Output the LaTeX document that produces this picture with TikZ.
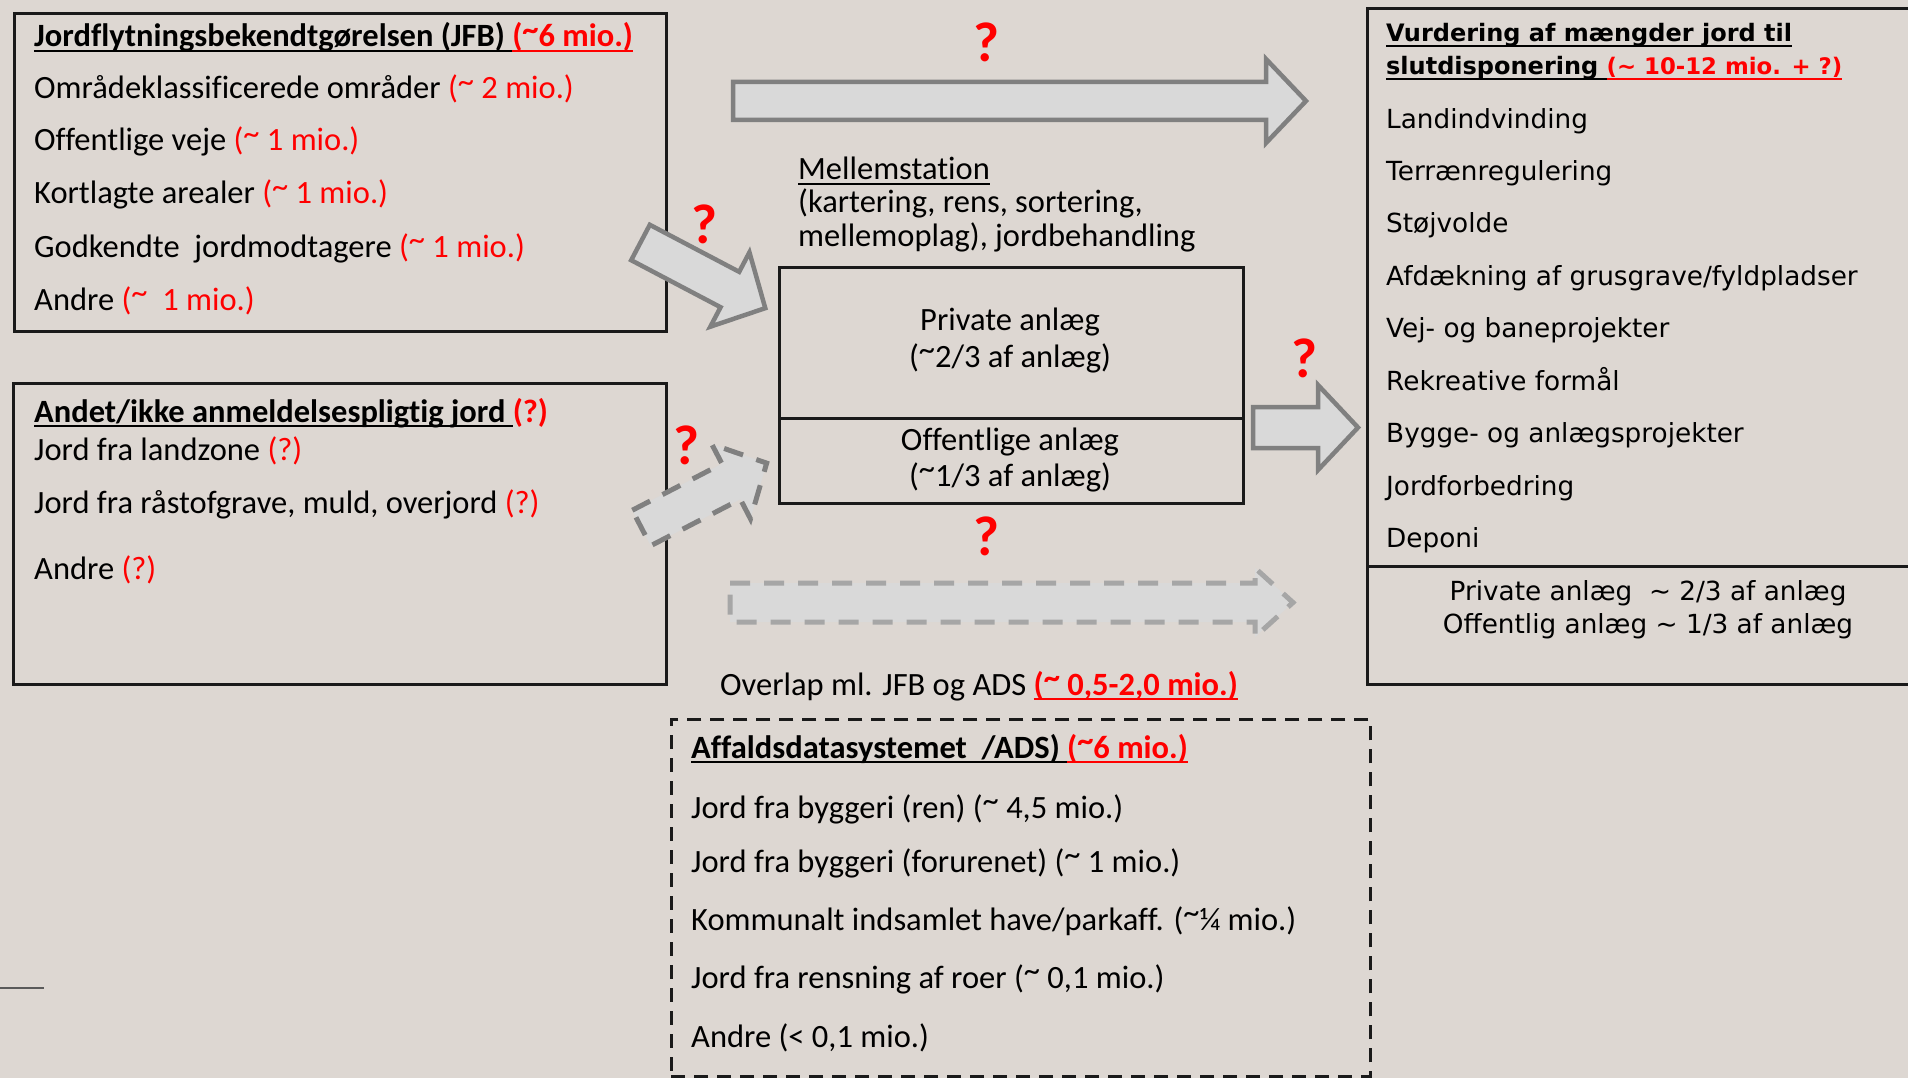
\documentclass[tikz,border=0pt]{standalone}
\usepackage{fontspec}
\setmainfont{Carlito}[Ligatures=NoCommon]
\newfontfamily\verd{DejaVu Sans}
\definecolor{bg}{RGB}{221,215,210}
\definecolor{afill}{RGB}{217,217,217}
\definecolor{aline}{RGB}{128,128,128}
\definecolor{adash}{RGB}{166,166,166}
\definecolor{adashd}{RGB}{128,128,128}
\definecolor{boxline}{RGB}{26,26,26}
\definecolor{stray}{RGB}{90,90,90}
\newcommand\myul[1]{\setbox0=\hbox{#1}\rlap{\rule[-5pt]{\wd0}{2.2pt}}\box0}
\newcommand\rd[1]{\textcolor{red}{#1}}
\newcommand\tld{\raisebox{0.2em}{\textasciitilde}}
\tikzset{
  txt/.style={anchor=base west, inner sep=0pt, font=\fontsize{32.5}{38}\selectfont},
  txtb/.style={anchor=base west, inner sep=0pt, font=\fontsize{32.5}{38}\selectfont\bfseries},
  ctxt/.style={anchor=base, inner sep=0pt, font=\fontsize{32.5}{38}\selectfont},
  rtxt/.style={anchor=base west, inner sep=0pt, font=\verd\fontsize{26.3}{32}\selectfont},
  rtxtc/.style={anchor=base, inner sep=0pt, font=\verd\fontsize{26.3}{32}\selectfont},
  rtxtb/.style={anchor=base west, inner sep=0pt, font=\verd\fontsize{24}{30}\selectfont\bfseries},
  qm/.style={anchor=base, inner sep=0pt, text=red, font=\fontsize{56}{60}\selectfont\bfseries},
  frame/.style={draw=boxline, line width=2.8pt, anchor=north west, inner sep=0pt},
  blockarrow/.style={fill=afill, draw=aline, line width=4.5pt, line join=miter},
  dasharrow/.style={fill=afill, draw=adash, line width=5pt, dash pattern=on 20pt off 14pt},
  dasharrowd/.style={fill=afill, draw=adashd, line width=5pt, dash pattern=on 20pt off 14pt},
}
\begin{document}
\begin{tikzpicture}[x=1pt,y=-1pt]
\useasboundingbox (0,0) rectangle (1908,1078);
\fill[bg] (0,0) rectangle (1908,1078);
\clip (0,0) rectangle (1908,1078);

% boxes
\node[frame, minimum width=652pt, minimum height=318pt] (jfb) at (13,12) {};
\node[frame, minimum width=653pt, minimum height=301pt] (andet) at (12,382) {};
\node[frame, minimum width=464pt, minimum height=151pt] (priv) at (778,266) {};
\node[frame, minimum width=464pt, minimum height=85pt] (offl) at (778,417) {};
\node[frame, minimum width=560pt, minimum height=558pt] (vurd) at (1366,7) {};
\node[frame, minimum width=560pt, minimum height=118pt] (vbot) at (1366,565) {};
\node[frame, dash pattern=on 14pt off 9pt, line width=2.6pt, minimum width=699pt, minimum height=357pt] (ads) at (670,718) {};

% block arrows
\begin{scope}[shift={(733,101)}]
\draw[blockarrow] (0,-19) -- (533,-19) -- (533,-42) -- (573,0) -- (533,42) -- (533,19) -- (0,19) -- cycle;
\end{scope}
\begin{scope}[shift={(640.5,242.5)}, rotate=-27.75]
\draw[blockarrow] (0,-20) -- (101,-20) -- (101,-42) -- (141,0) -- (101,42) -- (101,20) -- (0,20) -- cycle;
\end{scope}
\begin{scope}[shift={(641.5,528)}, rotate=27.4]
\draw[dasharrowd] (0,-20) -- (101,-20) -- (101,-42) -- (141,0) -- (101,42) -- (101,20) -- (0,20) -- cycle;
\end{scope}
\begin{scope}[shift={(1253,427.5)}]
\draw[blockarrow] (0,-20.5) -- (65,-20.5) -- (65,-42.5) -- (105,0) -- (65,42.5) -- (65,20.5) -- (0,20.5) -- cycle;
\end{scope}
\begin{scope}[shift={(730,602.5)}]
\draw[dasharrow] (0,-19.5) -- (525,-19.5) -- (525,-34.5) -- (563,0) -- (525,34.5) -- (525,19.5) -- (0,19.5) -- cycle;
\end{scope}

% question marks
\node[qm] (q1) at (986,62) {?};
\node[qm] (q2) at (704,243) {?};
\node[qm] (q3) at (686,464) {?};
\node[qm] (q4) at (1304,377) {?};
\node[qm] (q5) at (986,555) {?};

% JFB
\node[txtb] (jfbT) at (34,47) {\myul{Jordflytningsbekendtgørelsen (JFB) }\rd{\myul{(\tld6 mio.)}}};
\node[txt] (j1) at (34,99) {Områdeklassificerede områder \rd{(\tld{} 2 mio.)}};
\node[txt] (j2) at (34,151) {Offentlige veje \rd{(\tld{} 1 mio.)}};
\node[txt] (j3) at (34,204) {Kortlagte arealer \rd{(\tld{} 1 mio.)}};
\node[txt] (j4) at (34,257) {Godkendte\ \ jordmodtagere \rd{(\tld{} 1 mio.)}};
\node[txt] (j5) at (34,310) {Andre \rd{(\tld\ \ 1 mio.)}};

% Andet
\node[txtb] (anT) at (34,422) {\myul{Andet/ikke anmeldelsespligtig jord }\rd{(?)}};
\node[txt] (a1) at (34,460) {Jord fra landzone \rd{(?)}};
\node[txt] (a2) at (34,513) {Jord fra råstofgrave, muld, overjord \rd{(?)}};
\node[txt] (a3) at (34,579) {Andre \rd{(?)}};

% Mellemstation
\node[txt] (m1) at (798,180) {\myul{Mellemstation}};
\node[txt] (m2) at (798,213) {(kartering, rens, sortering,};
\node[txt] (m3) at (798,246) {mellemoplag), jordbehandling};
\node[ctxt] (p1) at (1010,330) {Private anlæg};
\node[ctxt] (p2) at (1010,367) {(\tld2/3 af anlæg)};
\node[ctxt] (o1) at (1010,450) {Offentlige anlæg};
\node[ctxt] (o2) at (1010,486) {(\tld1/3 af anlæg)};

% Vurdering
\node[rtxtb] (vT1) at (1386,42) {\myul{Vurdering af mængder jord til}};
\node[rtxtb] (vT2) at (1386,75) {\myul{slutdisponering }\rd{\fontsize{22.8}{28}\selectfont\myul{(\textasciitilde{} 10-12 mio. + ?)}}};
\node[rtxt] (v1) at (1386,129) {Landindvinding};
\node[rtxt] (v2) at (1386,181) {Terrænregulering};
\node[rtxt] (v3) at (1386,233) {Støjvolde};
\node[rtxt] (v4) at (1386,285) {Afdækning af grusgrave/fyldpladser};
\node[rtxt] (v5) at (1386,337) {Vej- og baneprojekter};
\node[rtxt] (v6) at (1386,390) {Rekreative formål};
\node[rtxt] (v7) at (1386,442) {Bygge- og anlægsprojekter};
\node[rtxt] (v8) at (1386,495) {Jordforbedring};
\node[rtxt] (v9) at (1386,547) {Deponi};
\node[rtxtc] (vb1) at (1648,600) {Private anlæg\ \ \textasciitilde{} 2/3 af anlæg};
\node[rtxtc] (vb2) at (1648,633) {Offentlig anlæg \textasciitilde{} 1/3 af anlæg};

% Overlap
\node[txt] (ovl) at (720,695) {Overlap ml. JFB og ADS \rd{\bfseries\myul{(\tld{} 0,5-2,0 mio.)}}};

% ADS
\node[txtb] (adsT) at (691,758) {\myul{Affaldsdatasystemet\ \ /ADS) }\rd{\myul{(\tld6 mio.)}}};
\node[txt] (d1) at (691,818) {Jord fra byggeri (ren) (\tld{} 4,5 mio.)};
\node[txt] (d2) at (691,872) {Jord fra byggeri (forurenet) (\tld{} 1 mio.)};
\node[txt] (d3) at (691,930) {Kommunalt indsamlet have/parkaff. (\tld¼ mio.)};
\node[txt] (d4) at (691,988) {Jord fra rensning af roer (\tld{} 0,1 mio.)};
\node[txt] (d5) at (691,1047) {Andre (< 0,1 mio.)};

% stray line
\coordinate (s1) at (0,988);
\coordinate (s2) at (44,988);
\draw[draw=stray, line width=2pt] (s1) -- (s2);
\end{tikzpicture}
\end{document}
